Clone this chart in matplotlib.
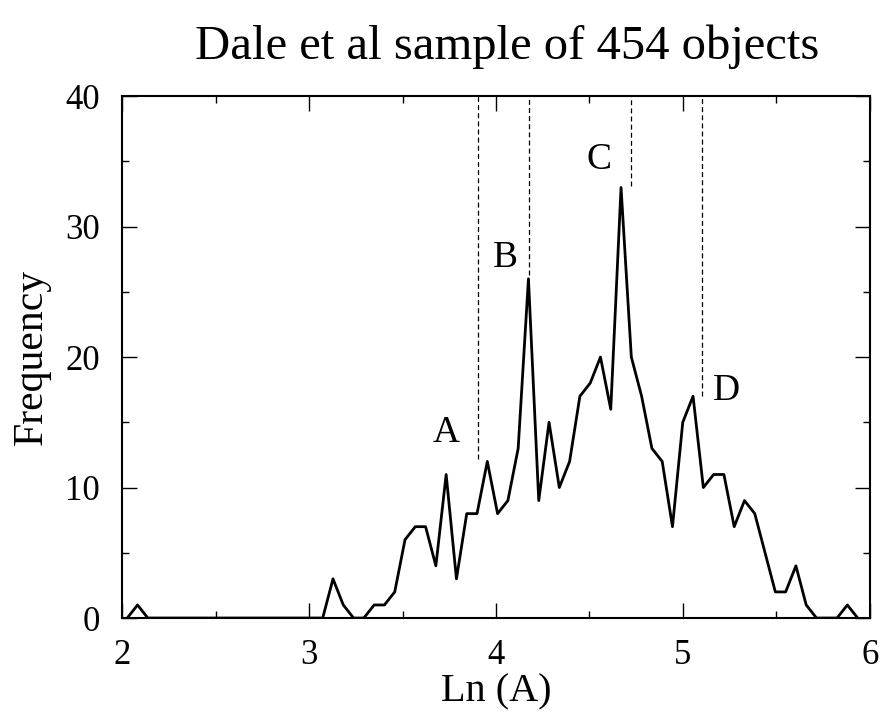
import numpy as np
import matplotlib.pyplot as plt
from matplotlib.ticker import MultipleLocator

plt.rcParams['font.family'] = ['Liberation Serif', 'DejaVu Serif']

# histogram of Ln(A): first and last bin centre, counts per bin
x_first = 2.028
x_last = 5.934
counts = [0, 1, 0, 0, 0, 0, 0, 0, 0, 0,
          0, 0, 0, 0, 0, 0, 0, 0, 0, 0,
          3, 1, 0, 0, 1, 1, 2, 6, 7, 7,
          4, 11, 3, 8, 8, 12, 8, 9, 13, 26,
          9, 15, 10, 12, 17, 18, 20, 16, 33, 20,
          17, 13, 12, 7, 15, 17, 10, 11, 11, 7,
          9, 8, 5, 2, 2, 4, 1, 0, 0, 0,
          1, 0]

# peak markers: label, dashed line x, dashed line bottom, label x, label y
peak_names = ["A", "B", "C", "D"]
line_x = [3.902, 4.175, 4.720, 5.100]
line_bottom = [12.2, 26.3, 33.1, 17.0]
label_x = [3.731, 4.048, 4.551, 5.234]
label_y = [12.9, 26.3, 33.8, 16.1]

bins = np.linspace(x_first, x_last, len(counts))

fig = plt.figure(figsize=(8.81, 7.12), dpi=100)
ax = fig.add_axes([0.1385, 0.132, 0.849, 0.733])

ax.plot(bins, counts, color="black", linewidth=2)

for name, lx, lb, tx, ty in zip(peak_names, line_x, line_bottom, label_x, label_y):
    ax.plot([lx, lx], [lb, 40], color="black", linestyle=(0, (4, 2.5)), linewidth=0.9)
    ax.text(tx, ty, name, fontsize=27, ha="center", va="bottom")

ax.set_xlim(2, 6)
ax.set_ylim(0, 40)
ax.xaxis.set_major_locator(MultipleLocator(1))
ax.xaxis.set_minor_locator(MultipleLocator(0.5))
ax.yaxis.set_major_locator(MultipleLocator(10))
ax.yaxis.set_minor_locator(MultipleLocator(5))
ax.tick_params(which="both", direction="in", top=True, right=True, labelsize=25, width=1)
ax.tick_params(axis="x", pad=15)
ax.tick_params(axis="y", pad=16)
ax.tick_params(which="major", length=11)
ax.tick_params(which="minor", length=5)
for s in ax.spines.values():
    s.set_linewidth(1.5)

ax.set_xlabel("Ln (A)", fontsize=29, labelpad=1)
ax.set_ylabel("Frequency", fontsize=30, labelpad=10)
ax.set_title("Dale et al sample of 454 objects", fontsize=35, pad=27, x=0.515)

fig.savefig("out.png", dpi=100)
